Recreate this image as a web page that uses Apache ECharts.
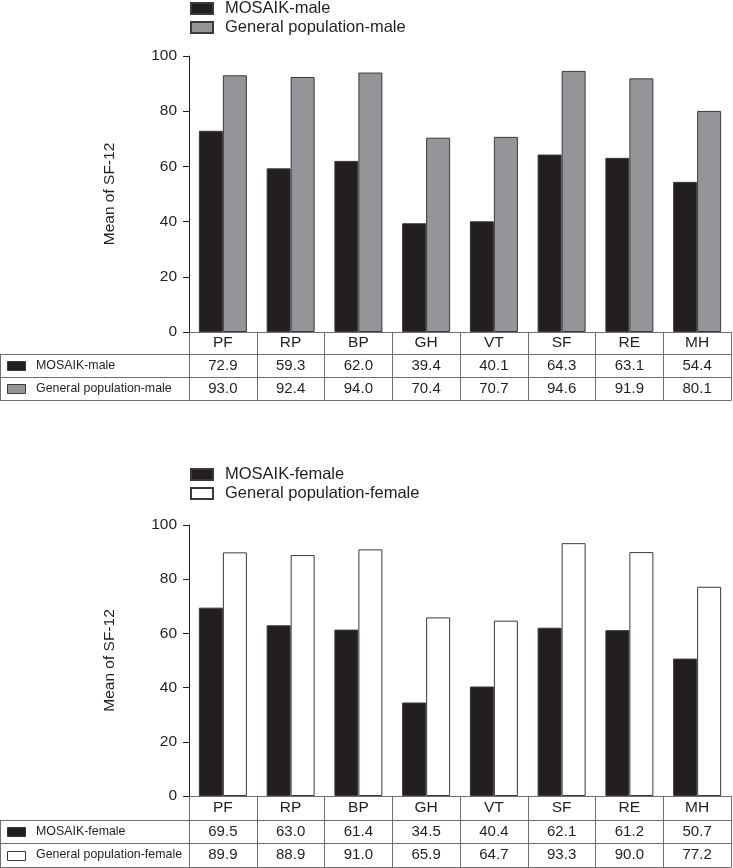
<!DOCTYPE html>
<html>
<head>
<meta charset="utf-8">
<script src="https://cdn.jsdelivr.net/npm/echarts@6/dist/echarts.min.js"></script>
<style>
html,body{margin:0;padding:0;background:#fff;}
#chart{width:733px;height:868px;}
</style>
</head>
<body>
<div id="chart"></div>
<script>
const categories = ['PF','RP','BP','GH','VT','SF','RE','MH'];
const mosaikMale = [72.9,59.3,62.0,39.4,40.1,64.3,63.1,54.4];
const generalMale = [93.0,92.4,94.0,70.4,70.7,94.6,91.9,80.1];
const mosaikFemale = [69.5,63.0,61.4,34.5,40.4,62.1,61.2,50.7];
const generalFemale = [89.9,88.9,91.0,65.9,64.7,93.3,90.0,77.2];
const seriesNamesMale = ['MOSAIK-male','General population-male'];
const seriesNamesFemale = ['MOSAIK-female','General population-female'];
const yAxisName = 'Mean of SF-12';

const FONT = '"Liberation Sans", Arial, sans-serif';
const TXT = '#231f20';
const BLACK = '#231f20';
const GRAY = '#939598';
const WHITE = '#ffffff';
const BORDER = '#3a3a3a';
const LINE = '#6d6e71';

const LEFT = 189, RIGHT_X = 731, WIDTH = RIGHT_X - LEFT;
const panels = [
  {top:56, bottom:332, rows:[332,354,377,400], legendTop:0, names:seriesNamesMale, data:[mosaikMale, generalMale], colors:[BLACK, GRAY]},
  {top:525, bottom:796, rows:[796,820,843,867], legendTop:466, names:seriesNamesFemale, data:[mosaikFemale, generalFemale], colors:[BLACK, WHITE]}
];

const fmt = v => v.toFixed(1);

const option = {
  animation:false,
  backgroundColor:'#fff',
  textStyle:{fontFamily:FONT, color:TXT},
  legend:[], grid:[], xAxis:[], yAxis:[], series:[], graphic:[]
};

panels.forEach((p, pi) => {
  const r = p.rows;
  option.grid.push({left:LEFT, width:WIDTH, top:p.top, height:p.bottom - p.top, containLabel:false, outerBoundsMode:'none'});
  option.legend.push({
    data:p.names, orient:'vertical', left:LEFT + 1, top:p.legendTop, padding:0,
    itemWidth:22, itemHeight:11, itemGap:2, icon:'rect',
    textStyle:{fontSize:16.5, fontFamily:FONT, color:TXT, padding:[0,0,0,7]}
  });
  option.yAxis.push({
    type:'value', gridIndex:pi, min:0, max:100, interval:20,
    name:yAxisName, nameLocation:'middle', nameRotate:90, nameGap:71,
    nameTextStyle:{fontSize:15.5, fontFamily:FONT, color:TXT},
    axisLine:{show:true, lineStyle:{color:'#231f20', width:1}},
    axisTick:{show:true, length:6, lineStyle:{color:'#231f20'}},
    axisLabel:{fontSize:15.5, fontFamily:FONT, color:TXT, margin:12},
    splitLine:{show:false}
  });
  const xBase = option.xAxis.length;
  option.xAxis.push({
    type:'category', gridIndex:pi, data:categories, position:'bottom',
    axisLine:{show:true, lineStyle:{color:LINE, width:1}},
    axisTick:{show:true, alignWithLabel:false, length:r[3]-r[0], lineStyle:{color:LINE, width:1}},
    axisLabel:{fontSize:15.5, fontFamily:FONT, color:TXT, margin:(r[0]+r[1])/2 - r[0], verticalAlign:'middle', interval:0}
  });
  [0,1].forEach(k => {
    option.xAxis.push({
      type:'category', gridIndex:pi, data:p.data[k].map(fmt), position:'bottom',
      axisLine:{show:false}, axisTick:{show:false}, splitLine:{show:false},
      axisLabel:{fontSize:15, fontFamily:FONT, color:TXT, margin:(r[k+1]+r[k+2])/2 - r[0], verticalAlign:'middle', interval:0}
    });
  });
  [0,1].forEach(k => {
    option.series.push({
      name:p.names[k], type:'bar', xAxisIndex:xBase, yAxisIndex:pi,
      data:p.data[k], barWidth:24, barGap:'0%',
      itemStyle:{color:p.colors[k], borderColor:BORDER, borderWidth:1}
    });
  });
  [1,2,3].forEach(i => {
    option.graphic.push({type:'line', silent:true, shape:{x1:0, y1:r[i]+0.5, x2:RIGHT_X+0.5, y2:r[i]+0.5}, style:{stroke:LINE, lineWidth:1}});
  });
  option.graphic.push({type:'line', silent:true, shape:{x1:0.5, y1:r[1], x2:0.5, y2:r[3]+0.5}, style:{stroke:LINE, lineWidth:1}});
  [0,1].forEach(k => {
    const cy = (r[k+1]+r[k+2])/2;
    option.graphic.push({type:'rect', silent:true, shape:{x:7.5, y:Math.round(cy-4.5)+0.5, width:18, height:9},
      style:{fill:p.colors[k], stroke:BORDER, lineWidth:1}});
    option.graphic.push({type:'text', silent:true, x:36, y:cy,
      style:{text:p.names[k], fontSize:12.4, fontFamily:FONT, fill:TXT, verticalAlign:'middle', align:'left'}});
  });
});

const chart = echarts.init(document.getElementById('chart'), null, {renderer:'canvas'});
chart.setOption(option);
</script>
</body>
</html>
